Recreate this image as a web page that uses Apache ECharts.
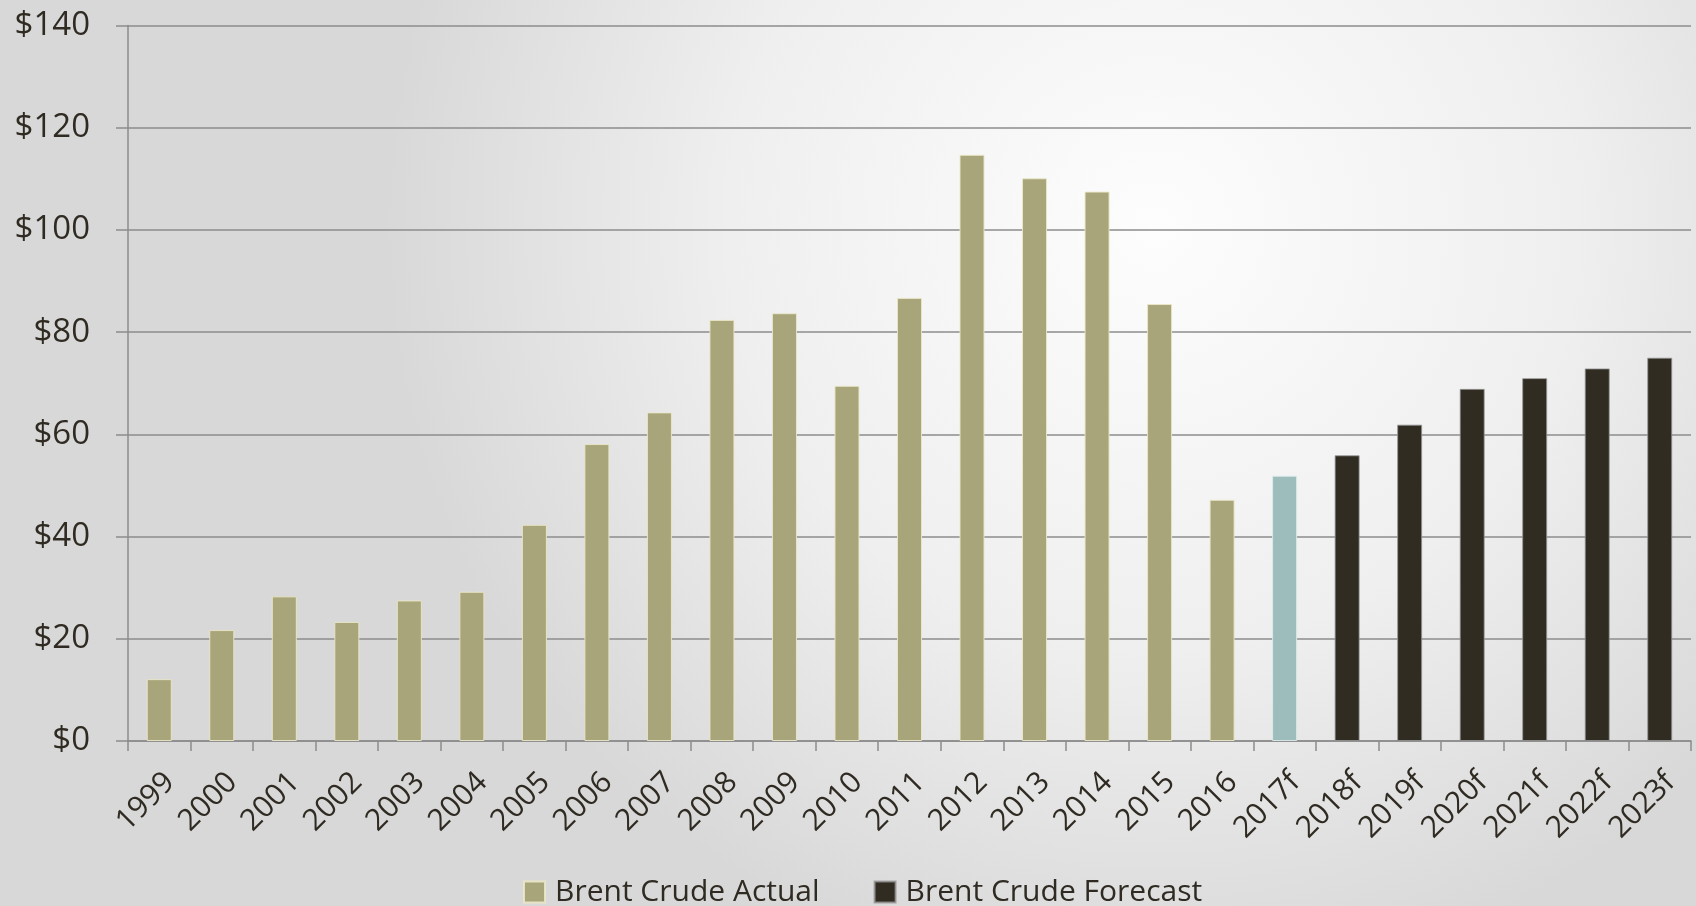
<!DOCTYPE html>
<html>
<head>
<meta charset="utf-8">
<style>
html,body{margin:0;padding:0;width:1696px;height:906px;overflow:hidden;}
#c{width:1696px;height:906px;}
</style>
<script src="https://cdn.jsdelivr.net/npm/echarts@6/dist/echarts.min.js"></script>
</head>
<body>
<div id="c"></div>
<script>
const categories = ['1999','2000','2001','2002','2003','2004','2005','2006','2007','2008','2009','2010','2011','2012','2013','2014','2015','2016','2017f','2018f','2019f','2020f','2021f','2022f','2023f'];
const actualValues = [12.1,21.7,28.3,23.3,27.5,29.2,42.3,58.1,64.3,82.4,83.7,69.5,86.7,114.7,110.1,107.5,85.5,47.2,51.9,null,null,null,null,null,null];
const forecastValues = [null,null,null,null,null,null,null,null,null,null,null,null,null,null,null,null,null,null,null,55.9,61.9,68.9,71.0,72.9,75.0];
const highlightCategory = '2017f';
const yTicks = [0,20,40,60,80,100,120,140];

const FONT = '"Open Sans", "Noto Sans", sans-serif';
const TEXT = '#2f2b22';
const AXIS = '#8c8c8c';

const chart = echarts.init(document.getElementById('c'), null, {renderer:'canvas'});
chart.setOption({
  animation:false,
  backgroundColor:{
    type:'radial', x:0.68, y:0.25, r:0.85,
    colorStops:[{offset:0,color:'#fdfdfd'},{offset:0.55,color:'#efefef'},{offset:1,color:'#d8d8d8'}]
  },
  grid:{left:128,right:5,top:25.5,bottom:165,containLabel:false},
  legend:{
    left:523, top:877, padding:0, itemGap:54,
    itemWidth:21, itemHeight:21, icon:'rect',
    textStyle:{fontFamily:FONT,fontSize:30,color:TEXT,padding:[0,0,0,5]},
    data:['Brent Crude Actual','Brent Crude Forecast']
  },
  xAxis:{
    type:'category', data:categories, boundaryGap:true,
    axisLine:{show:true,lineStyle:{color:AXIS,width:1.5}},
    axisTick:{show:true,alignWithLabel:false,length:10,lineStyle:{color:AXIS,width:1.5}},
    axisLabel:{interval:0,rotate:45,margin:26,align:'right',verticalAlign:'top',fontFamily:FONT,fontSize:30,color:TEXT}
  },
  yAxis:{
    type:'value', min:0, max:140, interval:20,
    axisLine:{show:true,lineStyle:{color:AXIS,width:1.5}},
    axisTick:{show:true,length:12,lineStyle:{color:AXIS,width:1.5}},
    splitLine:{show:true,lineStyle:{color:AXIS,width:1.5}},
    axisLabel:{margin:38,fontFamily:FONT,fontSize:33,color:TEXT,padding:[0,0,10,0],
      formatter:function(v){return yTicks.indexOf(v)>=0 ? '$'+v : '';}}
  },
  series:[
    {
      name:'Brent Crude Actual', type:'bar', barWidth:25, barGap:'-100%',
      itemStyle:{color:'#a8a57b',borderColor:'rgba(235,232,200,0.9)',borderWidth:1},
      data:actualValues.map(function(v,i){
        if(categories[i]===highlightCategory){
          return {value:v,itemStyle:{color:'#9dbdbc',borderColor:'rgba(220,235,235,0.9)'}};
        }
        return v;
      })
    },
    {
      name:'Brent Crude Forecast', type:'bar', barWidth:25, barGap:'-100%',
      itemStyle:{color:'#302c21',borderColor:'rgba(150,150,150,0.8)',borderWidth:1},
      data:forecastValues
    }
  ]
});
</script>
</body>
</html>
